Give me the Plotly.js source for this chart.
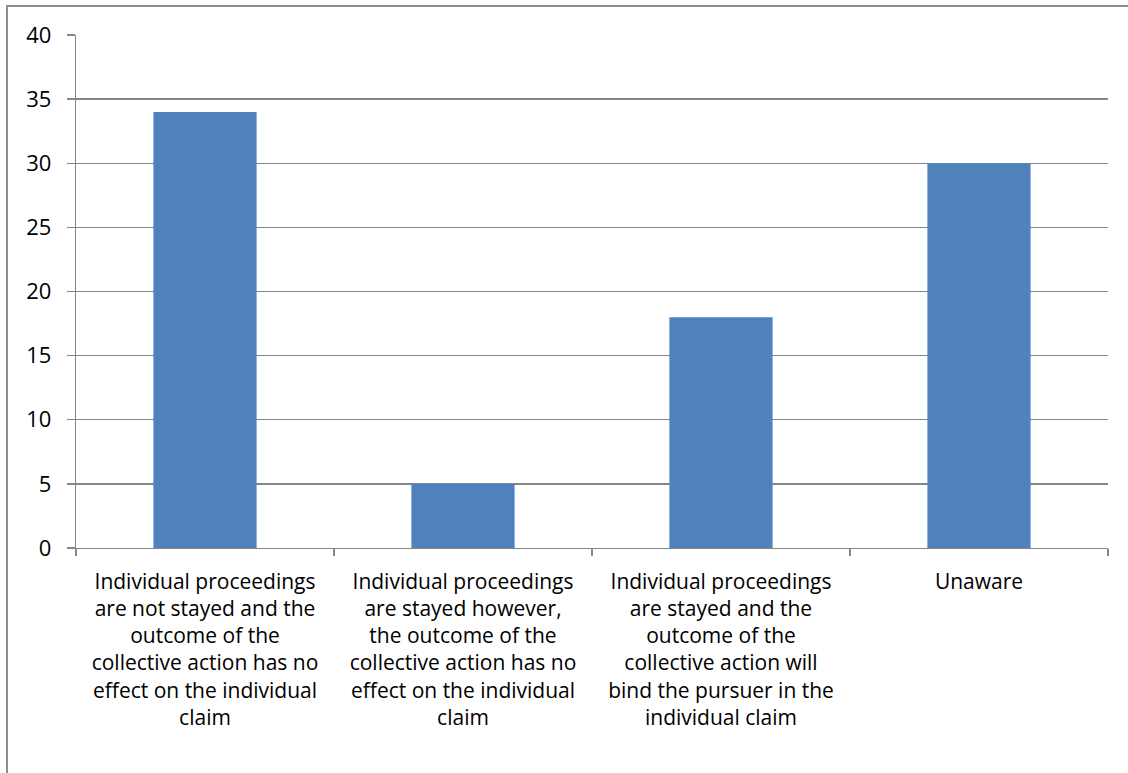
<!DOCTYPE html>
<html>
<head>
<meta charset="utf-8">
<script src="https://cdn.plot.ly/plotly-3.0.1.min.js"></script>
<style>
  html, body { margin: 0; padding: 0; background: #fff; overflow: hidden; }
  #frame { position: absolute; left: 6px; top: 5px; width: 1200px; height: 900px;
           border: 2px solid #8e8e8e; box-sizing: border-box; }
  #chart { position: absolute; left: 0; top: 0; width: 1128px; height: 773px; }
</style>
</head>
<body>
<div id="frame"></div>
<div id="chart"></div>
<script>
// Survey responses: effect of a collective action on individual proceedings
const categories = [
  "Individual proceedings<br>are not stayed and the<br>outcome of the<br>collective action has no<br>effect on the individual<br>claim",
  "Individual proceedings<br>are stayed however,<br>the outcome of the<br>collective action has no<br>effect on the individual<br>claim",
  "Individual proceedings<br>are stayed and the<br>outcome of the<br>collective action will<br>bind the pursuer in the<br>individual claim",
  "Unaware"
];
const responses = [34, 5, 18, 30];
const yTicks = [0, 5, 10, 15, 20, 25, 30, 35, 40];

const family = "Open Sans, Lato, sans-serif";
const xFont = { family: family, size: 21, color: "#000" };
const yFont = { family: family, size: 22, color: "#000" };

Plotly.newPlot("chart", [{
  type: "bar",
  x: categories,
  y: responses,
  marker: { color: "#4f81bd", line: { width: 0 } },
  hoverinfo: "skip"
}], {
  width: 1128,
  height: 773,
  margin: { l: 76, r: 20, t: 35, b: 225, pad: 0 },
  paper_bgcolor: "rgba(0,0,0,0)",
  plot_bgcolor: "rgba(0,0,0,0)",
  bargap: 0.6,
  showlegend: false,
  font: xFont,
  xaxis: {
    type: "category",
    tickson: "boundaries",
    ticks: "outside",
    ticklen: 7,
    tickwidth: 1.3,
    tickcolor: "#868686",
    showline: true,
    linecolor: "#868686",
    linewidth: 1.3,
    showgrid: false,
    tickangle: 0,
    tickfont: xFont,
    ticklabelstandoff: 14,
    fixedrange: true
  },
  yaxis: {
    range: [0, 40],
    tickvals: yTicks,
    ticktext: yTicks.map(String),
    ticks: "outside",
    ticklen: 8,
    tickwidth: 1.3,
    tickcolor: "#868686",
    showline: true,
    linecolor: "#868686",
    linewidth: 1.3,
    showgrid: true,
    gridcolor: "#868686",
    gridwidth: 1.3,
    zeroline: false,
    tickfont: yFont,
    ticklabelstandoff: 11,
    fixedrange: true
  }
}, { displayModeBar: false, staticPlot: true });
</script>
</body>
</html>
